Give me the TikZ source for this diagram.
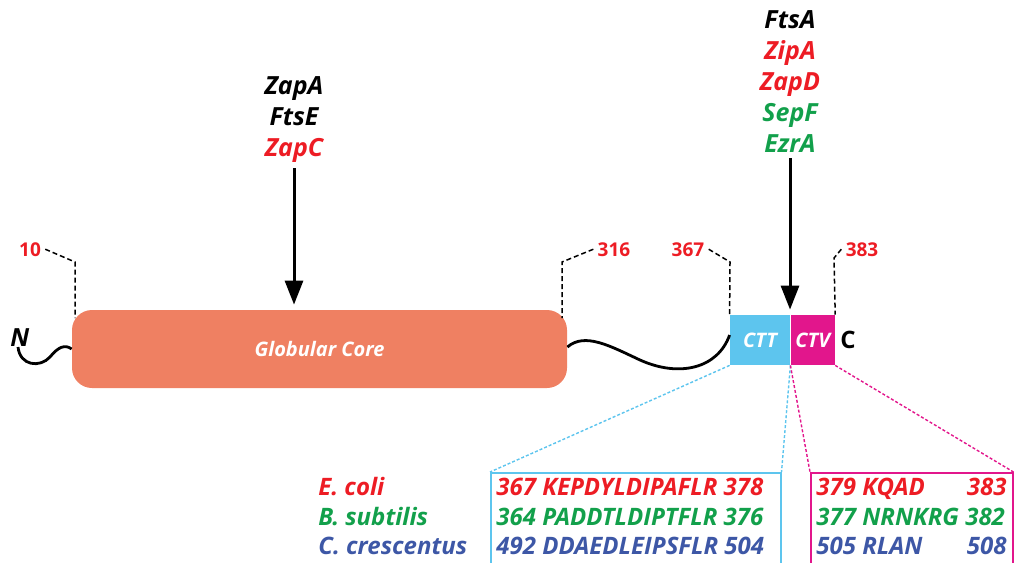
\documentclass[tikz,border=0pt]{standalone}
\usepackage{fontspec}
\setmainfont{Open Sans}
\usetikzlibrary{arrows.meta}
\definecolor{corefill}{HTML}{EF8062}
\definecolor{cttblue}{HTML}{5DC5EE}
\definecolor{ctvpink}{HTML}{E2168C}
\definecolor{seqred}{HTML}{ED1C24}
\definecolor{seqgreen}{HTML}{12A04B}
\definecolor{seqblue}{HTML}{3D57A6}

\begin{document}
\begin{tikzpicture}[x=0.5pt, y=-0.5pt, every node/.style={inner sep=0pt},
    lbl/.style={font=\fontsize{12.5}{14}\selectfont\bfseries\itshape, anchor=base},
    resnum/.style={text=seqred, font=\fontsize{9.5}{11}\selectfont\bfseries, anchor=base},
    seq/.style={font=\fontsize{12}{14}\selectfont\bfseries\itshape, anchor=base west},
    leader/.style={dash pattern=on 2.5pt off 1.5pt, line width=0.75pt},
    zoomline/.style={dash pattern=on 1.5pt off 1pt, line width=0.7pt},
    bind/.style={line width=1.5pt, -{Triangle[length=12pt, width=9pt]}, shorten >=2.5pt, shorten <=3pt},
    chain/.style={line width=1.4pt}]
  \clip (0,0) rectangle (1015,562);

  % protein domains
  \node[fill=corefill, rounded corners=10pt, minimum width=247.5pt, minimum height=39pt,
        text=white, font=\fontsize{10}{12}\selectfont\bfseries\itshape] (core) at (319.5,349) {Globular Core};
  \node[fill=cttblue, minimum width=30pt, minimum height=25pt, text=white,
        font=\fontsize{10}{12}\selectfont\bfseries\itshape] (ctt) at (760,340) {CTT};
  \node[fill=ctvpink, minimum width=22pt, minimum height=25pt, text=white,
        font=\fontsize{10}{12}\selectfont\bfseries\itshape, anchor=west] (ctv) at (ctt.east) {CTV};
  \node[lbl, anchor=base west] (nterm) at (10,346) {N};
  \node[lbl, font=\fontsize{12}{14}\selectfont\bfseries, anchor=base west] (cterm) at (840,348) {C};

  \draw[chain] (18,347) .. controls (20,366) and (40,368) .. (50,357)
                        .. controls (58,347) and (65,344) .. (core.west);
  \draw[chain] ([yshift=1pt]core.east) .. controls (585,332) and (610,346) .. (640,360)
                        .. controls (680,378) and (718,368) .. ([yshift=2.5pt]ctt.west);

  % residue numbers
  \node[resnum] (r10) at (30,256) {10};
  \node[resnum] (r316) at (614,256) {316};
  \node[resnum] (r367) at (688,256) {367};
  \node[resnum] (r383) at (862,256) {383};
  \draw[leader] ([xshift=2pt]r10.east) -- (75,262) -- (75,318);
  \draw[leader] ([xshift=-2pt]r316.west) -- (562,262) -- (562,318);
  \draw[leader] ([xshift=2pt]r367.east) -- (730,262) -- (ctt.north west);
  \draw[leader] ([xshift=-2pt]r383.west) -- (834,258) -- (ctv.north east);

  % binding partners
  \node[lbl] (zapa) at (294,94) {ZapA};
  \node[lbl] (ftse) at (294,125) {FtsE};
  \node[lbl, text=seqred] (zapc) at (294,156) {ZapC};
  \node[lbl] (ftsa) at (790,28) {FtsA};
  \node[lbl, text=seqred] (zipa) at (790,59) {ZipA};
  \node[lbl, text=seqred] (zapd) at (790,90) {ZapD};
  \node[lbl, text=seqgreen] (sepf) at (790,121) {SepF};
  \node[lbl, text=seqgreen] (ezra) at (790,152) {EzrA};
  \draw[bind] (zapc.south) -- (zapc.south |- core.north);
  \draw[bind] (ezra.south) -- (ezra.south |- ctt.north);

  % sequence boxes
  \node[draw=cttblue, line width=0.75pt, minimum width=145pt, minimum height=60pt, anchor=north west] (cttseq) at (490,472) {};
  \node[draw=ctvpink, line width=0.75pt, minimum width=101pt, minimum height=60pt, anchor=north west] (ctvseq) at (810,472) {};
  \draw[zoomline, cttblue] (ctt.south west) -- (cttseq.north west);
  \draw[zoomline, cttblue] (ctt.south east) -- (cttseq.north east);
  \draw[zoomline, ctvpink] (ctv.south west) -- (ctvseq.north west);
  \draw[zoomline, ctvpink] (ctv.south east) -- (ctvseq.north east);

  \node[seq, text=seqred] (ecoli) at (318,495) {E. coli};
  \node[seq, text=seqgreen] (bsub) at (318,525) {B. subtilis};
  \node[seq, text=seqblue] (ccres) at (318,554) {C. crescentus};
  \node[seq, text=seqred] (ecctt) at (496,495) {367 KEPDYLDIPAFLR 378};
  \node[seq, text=seqgreen] (bsctt) at (496,525) {364 PADDTLDIPTFLR 376};
  \node[seq, text=seqblue] (ccctt) at (496,554) {492 DDAEDLEIPSFLR 504};
  \node[seq, text=seqred] (ecctv) at (816,495) {379 KQAD};
  \node[seq, text=seqred, anchor=base east] (ecend) at (1007,495) {383};
  \node[seq, text=seqgreen] (bsctv) at (816,525) {377 NRNKRG 382};
  \node[seq, text=seqblue] (ccctv) at (816,554) {505 RLAN};
  \node[seq, text=seqblue, anchor=base east] (ccend) at (1007,554) {508};
\end{tikzpicture}
\end{document}
